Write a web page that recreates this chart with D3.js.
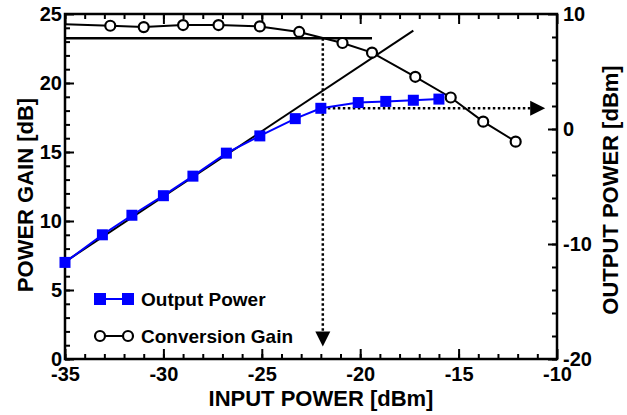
<!DOCTYPE html>
<html>
<head>
<meta charset="utf-8">
<script src="https://cdn.jsdelivr.net/npm/d3@7"></script>
<style>
  body { margin: 0; background: #fff; }
  svg { display: block; font-family: "Liberation Sans", Arial, sans-serif; font-weight: bold; }
  .axis text { font-size: 20px; font-weight: bold; fill: #000; }
  .axis line { stroke: #000; stroke-width: 2; }
  .axis path { display: none; }
</style>
</head>
<body>
<svg width="627" height="415"></svg>
<script>
// output power (blue squares, right axis)
const opInput = [-35, -33.1, -31.6, -30, -28.5, -26.8, -25.1, -23.3, -22, -20.1, -18.7, -17.3, -16];
const opValue = [-11.6, -9.2, -7.5, -5.8, -4.1, -2.1, -0.6, 0.9, 1.8, 2.3, 2.4, 2.5, 2.6];

// conversion gain (open circles, left axis); first point has no marker
const cgInput = [-35, -32.7, -31, -29, -27.2, -25.1, -23.1, -20.9, -19.4, -17.2, -15.4, -13.75, -12.1];
const cgValue = [24.25, 24.15, 24.05, 24.2, 24.2, 24.1, 23.7, 22.9, 22.2, 20.45, 18.95, 17.2, 15.75];

// guide lines
const compLine = {x: [-35, -19.4], gain: 23.25};
const fitLine = {x: [-35, -17.3], out: [-11.55, 8.55]};
const p1dB = {x: -21.9, out: 1.8, arrowGain: 0.9, arrowX: -10.6};

const xTicks = [-35, -30, -25, -20, -15, -10];
const leftTicks = [0, 5, 10, 15, 20, 25];
const rightTicks = [-20, -10, 0, 10];

const margin = {top: 14, right: 70, bottom: 56, left: 65},
    W = 627, H = 415,
    width = W - margin.left - margin.right,
    height = H - margin.top - margin.bottom;

const svg = d3.select('svg');
const g = svg.append('g').attr('transform', `translate(${margin.left}, ${margin.top})`);

const x = d3.scaleLinear().domain([-35, -10]).range([0, width]);
const yL = d3.scaleLinear().domain([0, 25]).range([height, 0]);
const yR = d3.scaleLinear().domain([-20, 10]).range([height, 0]);

const fmt = d => d3.format('d')(d).replace('−', '-');

// minor ticks
g.append('g').attr('class', 'axis').attr('transform', `translate(0, ${height})`)
    .call(d3.axisBottom(x).tickValues(d3.range(-35, -10, 1)).tickSize(-5).tickFormat(''));
g.append('g').attr('class', 'axis')
    .call(d3.axisTop(x).tickValues(d3.range(-35, -10, 1)).tickSize(-5).tickFormat(''));
g.append('g').attr('class', 'axis')
    .call(d3.axisLeft(yL).tickValues(d3.range(0, 25, 1)).tickSize(-5).tickFormat(''));
g.append('g').attr('class', 'axis').attr('transform', `translate(${width}, 0)`)
    .call(d3.axisRight(yR).tickValues(d3.range(-20, 10, 2)).tickSize(-5).tickFormat(''));

// major ticks + labels
g.append('g').attr('class', 'axis').attr('transform', `translate(0, ${height})`)
    .call(d3.axisBottom(x).tickValues(xTicks).tickSize(-10).tickPadding(8).tickFormat(fmt));
g.append('g').attr('class', 'axis')
    .call(d3.axisTop(x).tickValues(xTicks).tickSize(-10).tickFormat(''));
g.append('g').attr('class', 'axis')
    .call(d3.axisLeft(yL).tickValues(leftTicks).tickSize(-9).tickPadding(3).tickFormat(fmt));
g.append('g').attr('class', 'axis').attr('transform', `translate(${width}, 0)`)
    .call(d3.axisRight(yR).tickValues(rightTicks).tickSize(-9).tickPadding(6).tickFormat(fmt));

// frame
g.append('rect').attr('width', width).attr('height', height)
    .attr('fill', 'none').attr('stroke', '#000').attr('stroke-width', 2.5);

// guide lines
g.append('line')
    .attr('x1', x(compLine.x[0])).attr('x2', x(compLine.x[1]))
    .attr('y1', yL(compLine.gain)).attr('y2', yL(compLine.gain))
    .attr('stroke', '#000').attr('stroke-width', 2.5);
g.append('line')
    .attr('x1', x(fitLine.x[0])).attr('x2', x(fitLine.x[1]))
    .attr('y1', yR(fitLine.out[0])).attr('y2', yR(fitLine.out[1]))
    .attr('stroke', '#000').attr('stroke-width', 2);

const arrowSize = 15;
g.append('line')
    .attr('x1', x(p1dB.x)).attr('x2', x(p1dB.x))
    .attr('y1', yL(compLine.gain)).attr('y2', yL(p1dB.arrowGain) - arrowSize + 2)
    .attr('stroke', '#000').attr('stroke-width', 2.5).attr('stroke-dasharray', '2.5,2.5');
g.append('path')
    .attr('d', `M${x(p1dB.x)},${yL(p1dB.arrowGain)} l-7.5,-${arrowSize} h15 z`)
    .attr('fill', '#000');
g.append('line')
    .attr('x1', x(p1dB.x)).attr('x2', x(p1dB.arrowX) - arrowSize + 2)
    .attr('y1', yR(p1dB.out)).attr('y2', yR(p1dB.out))
    .attr('stroke', '#000').attr('stroke-width', 2.5).attr('stroke-dasharray', '2.5,2.5');
g.append('path')
    .attr('d', `M${x(p1dB.arrowX)},${yR(p1dB.out)} l-${arrowSize},-7.5 v15 z`)
    .attr('fill', '#000');

// conversion gain
const cg = cgInput.map((d, i) => ({x: d, y: cgValue[i]}));
g.append('path').datum(cg)
    .attr('d', d3.line().x(d => x(d.x)).y(d => yL(d.y)))
    .attr('fill', 'none').attr('stroke', '#000').attr('stroke-width', 2);
g.selectAll('.cg').data(cg.slice(1)).join('circle')
    .attr('class', 'cg')
    .attr('cx', d => x(d.x)).attr('cy', d => yL(d.y)).attr('r', 5)
    .attr('fill', '#fff').attr('stroke', '#000').attr('stroke-width', 2.2);

// output power
const op = opInput.map((d, i) => ({x: d, y: opValue[i]}));
g.append('path').datum(op)
    .attr('d', d3.line().x(d => x(d.x)).y(d => yR(d.y)))
    .attr('fill', 'none').attr('stroke', '#0000ff').attr('stroke-width', 2);
g.selectAll('.op').data(op).join('rect')
    .attr('class', 'op')
    .attr('x', d => x(d.x) - 5.5).attr('y', d => yR(d.y) - 5.5)
    .attr('width', 11).attr('height', 11).attr('fill', '#0000ff');

// legend
const legend = svg.append('g').attr('transform', 'translate(93, 0)');
legend.append('line').attr('x1', 7).attr('x2', 35).attr('y1', 299).attr('y2', 299)
    .attr('stroke', '#0000ff').attr('stroke-width', 2);
legend.selectAll('.lsq').data([7, 35]).join('rect').attr('class', 'lsq')
    .attr('x', d => d - 6).attr('y', 293).attr('width', 12).attr('height', 12).attr('fill', '#0000ff');
legend.append('text').attr('x', 48).attr('y', 306).attr('font-size', 19).text('Output Power');
legend.append('line').attr('x1', 7).attr('x2', 35).attr('y1', 336).attr('y2', 336)
    .attr('stroke', '#000').attr('stroke-width', 2);
legend.selectAll('.lci').data([7, 35]).join('circle').attr('class', 'lci')
    .attr('cx', d => d).attr('cy', 336).attr('r', 5)
    .attr('fill', '#fff').attr('stroke', '#000').attr('stroke-width', 2.2);
legend.append('text').attr('x', 48).attr('y', 343).attr('font-size', 19).text('Conversion Gain');

// axis titles
svg.append('text').attr('x', 321).attr('y', 406)
    .attr('text-anchor', 'middle').attr('font-size', 22).text('INPUT POWER [dBm]');
svg.append('text').attr('transform', 'translate(33, 195) rotate(-90)')
    .attr('text-anchor', 'middle').attr('font-size', 22).text('POWER GAIN [dB]');
svg.append('text').attr('transform', 'translate(618, 190) rotate(-90)')
    .attr('text-anchor', 'middle').attr('font-size', 22).text('OUTPUT POWER [dBm]');
</script>
</body>
</html>
